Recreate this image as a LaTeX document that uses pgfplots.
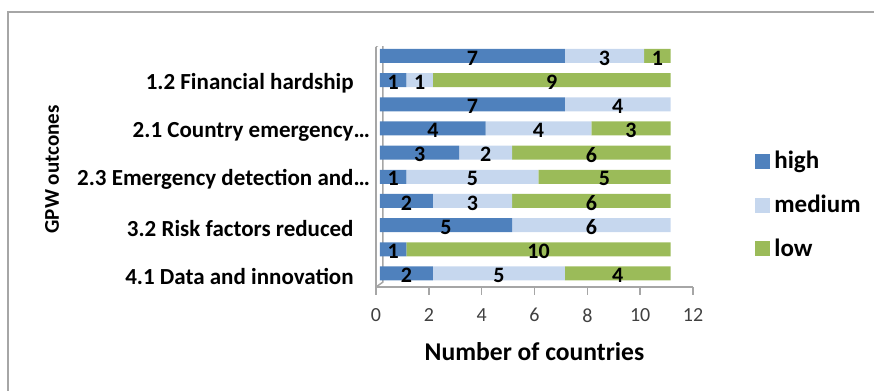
\documentclass[border=0pt]{standalone}
\usepackage{fontspec}
\setmainfont{Carlito}
\usepackage{pgfplots}
\pgfplotsset{compat=1.18}
\usepackage{pgfplotstable}

% fill colours of the three levels
\definecolor{highcol}{RGB}{79,129,189}
\definecolor{medcol}{RGB}{198,215,238}
\definecolor{lowcol}{RGB}{155,187,89}
% flat legend swatches
\definecolor{highleg}{RGB}{79,129,189}
\definecolor{medleg}{RGB}{185,205,229}
\definecolor{lowleg}{RGB}{155,187,89}
\definecolor{wallgray}{RGB}{166,166,166}
\definecolor{ticktext}{RGB}{64,64,64}

% number of countries per GPW outcome and level (pos 10 = top bar)
\pgfplotstableread{
pos high medium low
10  7    3      1
9   1    1      9
8   7    4      0
7   4    4      3
6   3    2      6
5   1    5      5
4   2    3      6
3   5    6      0
2   1    0      10
1   2    5      4
}\outcomes

\begin{document}
\begin{tikzpicture}
\useasboundingbox (0,0) rectangle (437pt,195.5pt);
% chart area frame
\draw[wallgray, line width=1pt] (4pt,-5pt) -- (4pt,189.5pt) -- (440pt,189.5pt);
\begin{axis}[
  at={(188pt,52pt)}, anchor=south west,
  scale only axis, width=158.5pt, height=120pt,
  xbar stacked, bar width=7pt,
  xmin=0, xmax=12, ymin=0.44, ymax=10.37,
  axis x line*=bottom, axis y line*=left,
  axis line style={wallgray, line width=0.75pt},
  xtick={0,2,...,12},
  tick align=outside, major tick length=4pt,
  xtick style={wallgray, line width=0.75pt},
  ytick={1,3,5,7,9},
  ytick style={draw=none},
  yticklabels={4.1 Data and innovation, 3.2 Risk factors reduced, 2.3 Emergency detection and\rlap{…}, 2.1 Country emergency\rlap{…}, 1.2 Financial hardship},
  yticklabel style={anchor=east, inner sep=0pt, xshift=-7pt, yshift=-1.5pt, font=\bfseries\fontsize{11.5}{13}\selectfont, text=black},
  xticklabel style={inner sep=0pt, yshift=-6.5pt, font=\fontsize{10}{12}\selectfont, text=ticktext},
  /pgf/number format/assume math mode=true,
  xlabel={Number of countries},
  every axis x label/.style={at={(axis description cs:0.5,-0.2708)}, anchor=center, font=\bfseries\fontsize{12.8}{15}\selectfont},
  ylabel={GPW outcones},
  every axis y label/.style={at={(axis description cs:-1.0221,0.49)}, rotate=90, anchor=center, font=\bfseries\fontsize{10.5}{12}\selectfont},
  every axis plot/.append style={draw=none, xshift=2pt},
  nodes near coords={\ifdim\w pt>0pt\pgfmathprintnumber{\w}\fi},
  every node near coord/.append style={anchor=center, font=\bfseries\fontsize{11}{13}\selectfont, text=black, inner sep=0pt, yshift=-1pt},
  legend style={at={(axis description cs:1.1956,0.5833)}, anchor=north west, draw=none, fill=none, inner sep=0pt, row sep=7.5pt, font=\bfseries\fontsize{12.5}{15}\selectfont},
  legend image code/.code={\fill[#1] (0pt,-3.75pt) rectangle (7.5pt,3.75pt);},
  legend cell align=left,
]
\addplot[fill=highcol, visualization depends on={\thisrow{high}\as\w}]
  table[x=high, y=pos]{\outcomes};
\addlegendentry{high}
\addplot[fill=medcol, visualization depends on={\thisrow{medium}\as\w}]
  table[x=medium, y=pos]{\outcomes};
\addlegendentry{medium}
\addplot[fill=lowcol, visualization depends on={\thisrow{low}\as\w}]
  table[x=low, y=pos]{\outcomes};
\addlegendentry{low}
% side wall and floor edge of the 3-D frame
\draw[wallgray, line width=0.75pt]
  (rel axis cs:0,1) -- ([shift={(3.5pt,3pt)}]rel axis cs:0,1)
  -- ([shift={(3.5pt,2.5pt)}]rel axis cs:0,0) -- (rel axis cs:0,0);
\end{axis}
\end{tikzpicture}
\end{document}
